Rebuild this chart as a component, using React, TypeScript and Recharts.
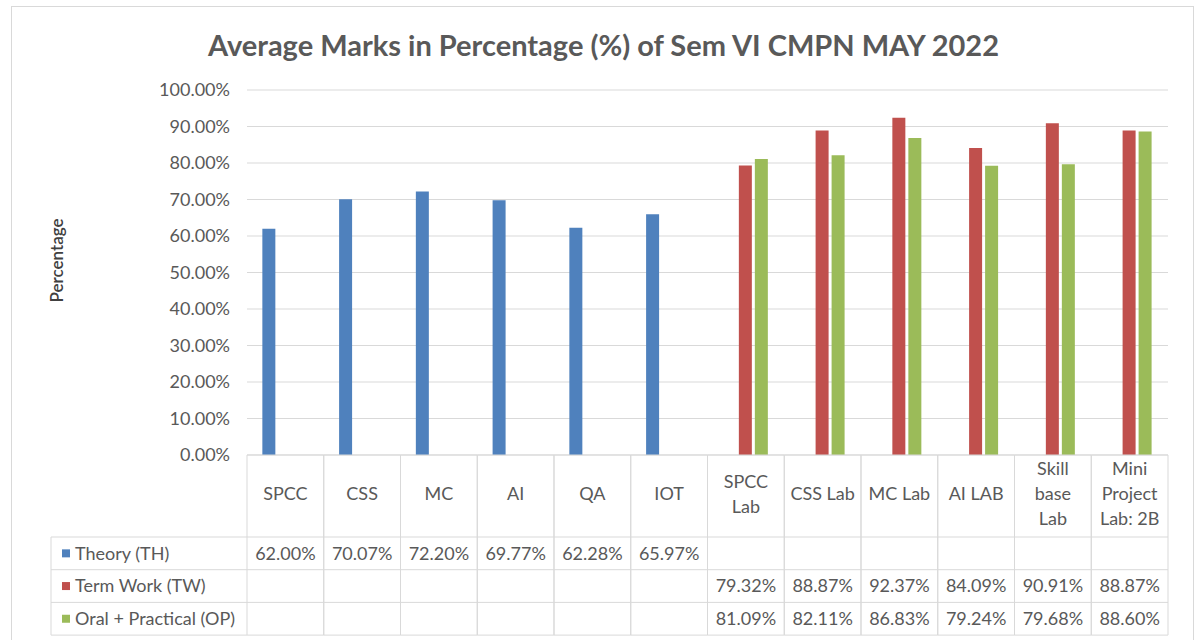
import { BarChart, Bar, XAxis, YAxis, CartesianGrid } from "recharts";

const categories = [
  "SPCC",
  "CSS",
  "MC",
  "AI",
  "QA",
  "IOT",
  "SPCC Lab",
  "CSS Lab",
  "MC Lab",
  "AI LAB",
  "Skill base Lab",
  "Mini Project Lab: 2B",
];

const theory = [62.0, 70.07, 72.2, 69.77, 62.28, 65.97, null, null, null, null, null, null];
const termWork = [null, null, null, null, null, null, 79.32, 88.87, 92.37, 84.09, 90.91, 88.87];
const oralPractical = [null, null, null, null, null, null, 81.09, 82.11, 86.83, 79.24, 79.68, 88.6];

const yTicks = [0, 10, 20, 30, 40, 50, 60, 70, 80, 90, 100];

const series = [
  { key: "th", name: "Theory (TH)", color: "#4f81bd", values: theory },
  { key: "tw", name: "Term Work (TW)", color: "#c0504d", values: termWork },
  { key: "op", name: "Oral + Practical (OP)", color: "#9bbb59", values: oralPractical },
];

const data = categories.map((name, i) => ({
  name,
  th: theory[i],
  tw: termWork[i],
  op: oralPractical[i],
}));

const WIDTH = 1199;
const HEIGHT = 640;
const PLOT_LEFT = 247;
const MARGIN_RIGHT = 31;
const COL_W = (WIDTH - PLOT_LEFT - MARGIN_RIGHT) / categories.length;
const HEADER_H = 82;
const ROW_H = 32.7;
const LEGEND_W = 196;
const FONT = "Lato, 'Open Sans', sans-serif";
const TEXT = "#595959";
const LINE = "#d9d9d9";
const FS = 18;

// simple word wrap, roughly what Excel does in the narrow table cells
function wrap(label: string, maxChars: number) {
  const words = label.split(" ");
  const lines: string[] = [];
  let cur = "";
  for (const w of words) {
    const next = cur ? cur + " " + w : w;
    if (next.length > maxChars && cur) {
      lines.push(cur);
      cur = w;
    } else {
      cur = next;
    }
  }
  if (cur) lines.push(cur);
  return lines;
}

const fmt = (v: number) => v.toFixed(2) + "%";

function TableTick(props: any) {
  const { x, y, payload } = props;
  const i = payload.index;
  const left = x - COL_W / 2;
  const right = x + COL_W / 2;
  const bottom = y + HEADER_H + ROW_H * series.length;
  const lines = wrap(payload.value, 7);
  const mid = y + 39;
  const lh = 25;

  return (
    <g fontFamily={FONT} fontSize={FS} fill={TEXT}>
      <line x1={left} x2={left} y1={y} y2={bottom} stroke={LINE} />
      <line x1={right} x2={right} y1={y} y2={bottom} stroke={LINE} />
      <line x1={left} x2={right} y1={y} y2={y} stroke={LINE} />
      {lines.map((t, k) => (
        <text
          key={k}
          x={x}
          y={mid - ((lines.length - 1) * lh) / 2 + k * lh}
          dy="0.35em"
          textAnchor="middle"
        >
          {t}
        </text>
      ))}
      {series.map((s, r) => {
        const top = y + HEADER_H + ROW_H * r;
        const v = s.values[i];
        return (
          <g key={s.key}>
            <line x1={left} x2={right} y1={top} y2={top} stroke={LINE} />
            {v != null && (
              <text x={x} y={top + ROW_H / 2} dy="0.35em" textAnchor="middle">
                {fmt(v)}
              </text>
            )}
          </g>
        );
      })}
      <line x1={left} x2={right} y1={bottom} y2={bottom} stroke={LINE} />
      {i === 0 && (
        <g>
          <line x1={left - LEGEND_W} x2={left - LEGEND_W} y1={y + HEADER_H} y2={bottom} stroke={LINE} />
          {series.map((s, r) => {
            const top = y + HEADER_H + ROW_H * r;
            return (
              <g key={s.key}>
                <line x1={left - LEGEND_W} x2={left} y1={top} y2={top} stroke={LINE} />
                <rect x={left - LEGEND_W + 11} y={top + ROW_H / 2 - 4} width={8} height={8} fill={s.color} />
                <text x={left - LEGEND_W + 24} y={top + ROW_H / 2} dy="0.35em" textAnchor="start">
                  {s.name}
                </text>
              </g>
            );
          })}
          <line x1={left - LEGEND_W} x2={left} y1={bottom} y2={bottom} stroke={LINE} />
        </g>
      )}
    </g>
  );
}

export default function App() {
  return (
    <div
      style={{
        position: "fixed",
        left: 0,
        top: 0,
        width: WIDTH,
        height: HEIGHT,
        background: "#fff",
        overflow: "hidden",
      }}
    >
      <div
        style={{
          position: "absolute",
          left: 11,
          top: 6,
          width: 1181,
          height: 660,
          border: "1px solid #d9d9d9",
        }}
      />
      <div
        style={{
          position: "absolute",
          left: 4,
          top: 26,
          width: WIDTH,
          textAlign: "center",
          fontFamily: FONT,
          fontWeight: 700,
          fontSize: 29,
          color: TEXT,
          lineHeight: "38px",
        }}
      >
        Average Marks in Percentage (%) of Sem VI CMPN MAY 2022
      </div>
      <BarChart
        width={WIDTH}
        height={HEIGHT}
        data={data}
        margin={{ top: 90, right: MARGIN_RIGHT, left: 0, bottom: 5 }}
        barCategoryGap="20%"
        barGap={3}
        style={{ position: "absolute", left: 0, top: 0 }}
      >
        <CartesianGrid vertical={false} stroke={LINE} />
        <XAxis
          dataKey="name"
          height={180}
          interval={0}
          axisLine={false}
          tickLine={false}
          tickSize={0}
          tickMargin={0}
          tick={<TableTick />}
        />
        <YAxis
          width={PLOT_LEFT}
          domain={[0, 100]}
          ticks={yTicks}
          tickFormatter={fmt}
          axisLine={false}
          tickLine={false}
          tickSize={0}
          tickMargin={17}
          tick={{ fontFamily: FONT, fontSize: FS, fill: TEXT }}
          label={{
            content: (p: any) => {
              const vb = p.viewBox || { x: 0, y: 90, height: 365 };
              const cx = 57;
              const cy = vb.y + vb.height / 2 - 12;
              return (
                <text
                  x={cx}
                  y={cy}
                  transform={`rotate(-90 ${cx} ${cy})`}
                  textAnchor="middle"
                  dy="0.35em"
                  fontFamily={FONT}
                  fontSize={17}
                  fontWeight={600}
                  fill="#404040"
                >
                  Percentage
                </text>
              );
            },
          }}
        />
        {series.map((s) => (
          <Bar key={s.key} dataKey={s.key} name={s.name} fill={s.color} isAnimationActive={false} />
        ))}
      </BarChart>
    </div>
  );
}
